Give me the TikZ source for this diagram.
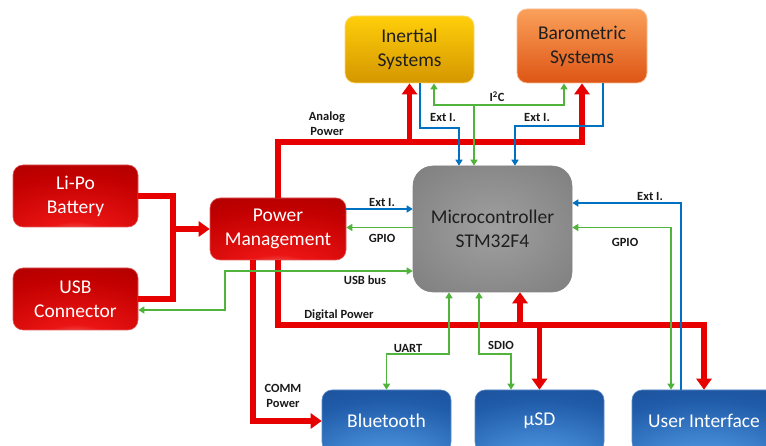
\documentclass[tikz,border=0pt]{standalone}
\usepackage{fontspec}
\setmainfont{Carlito}
\usetikzlibrary{arrows.meta,calc}

\definecolor{redline}{RGB}{230,0,0}
\definecolor{blueline}{RGB}{0,112,192}
\definecolor{greenline}{RGB}{80,180,60}
\definecolor{redA}{RGB}{255,175,175}
\definecolor{redB}{RGB}{235,20,20}
\definecolor{redC}{RGB}{195,0,0}
\definecolor{redD}{RGB}{145,0,0}
\definecolor{redEdge}{RGB}{225,90,90}
\definecolor{blueA}{RGB}{175,215,248}
\definecolor{blueB}{RGB}{70,140,215}
\definecolor{blueC}{RGB}{32,92,170}
\definecolor{blueD}{RGB}{22,66,135}
\definecolor{blueEdge}{RGB}{90,140,200}
\definecolor{grayA}{RGB}{160,160,160}
\definecolor{grayB}{RGB}{132,132,132}
\definecolor{grayC}{RGB}{110,110,110}
\definecolor{yTop}{RGB}{255,206,10}
\definecolor{yMid}{RGB}{250,190,0}
\definecolor{yBot}{RGB}{212,150,0}
\definecolor{yEdge}{RGB}{255,215,110}
\definecolor{oTop}{RGB}{250,160,90}
\definecolor{oMid}{RGB}{240,115,40}
\definecolor{oBot}{RGB}{222,85,20}
\definecolor{oEdge}{RGB}{250,190,150}

\pgfdeclareradialshading{redglow}{\pgfpoint{0bp}{-40bp}}{color(0bp)=(redA); color(14bp)=(redB); color(40bp)=(redC); color(72bp)=(redD); color(100bp)=(redD)}
\pgfdeclareradialshading{blueglow}{\pgfpoint{0bp}{-40bp}}{color(0bp)=(blueA); color(14bp)=(blueB); color(40bp)=(blueC); color(72bp)=(blueD); color(100bp)=(blueD)}
\pgfdeclareradialshading{grayglow}{\pgfpoint{0bp}{0bp}}{color(0bp)=(grayA); color(30bp)=(grayB); color(55bp)=(grayC); color(100bp)=(grayC)}

\begin{document}
\begin{tikzpicture}[x=1pt,y=1pt,
  boxfont/.style={font=\fontsize{19.5}{24}\selectfont, align=center, inner sep=0pt},
  redbox/.style={boxfont, rounded corners=10pt, shading=redglow, draw=redEdge, line width=0.6pt, text=white, minimum width=125pt, minimum height=62pt},
  bluebox/.style={boxfont, rounded corners=10pt, shading=blueglow, draw=blueEdge, line width=0.6pt, text=white, minimum width=129pt, minimum height=62pt},
  graybox/.style={boxfont, rounded corners=20pt, shading=grayglow, draw=grayB, line width=0.6pt, text=black!88},
  ybox/.style={boxfont, rounded corners=10pt, top color=yTop, middle color=yMid, bottom color=yBot, draw=yEdge, line width=0.8pt, text=black!88},
  obox/.style={boxfont, rounded corners=10pt, top color=oTop, middle color=oMid, bottom color=oBot, draw=oEdge, line width=0.8pt, text=black!88},
  lab/.style={font=\bfseries\fontsize{12.5}{15}\selectfont, align=center, inner sep=0pt, text=black!90},
  pwrline/.style={draw=redline, line width=5.3pt},
  pwr/.style={draw=redline, line width=5.3pt, -{Triangle[length=11pt,width=15pt]}},
  sig/.style={line width=1.8pt, -{Triangle[length=6pt,width=7pt]}},
  sigboth/.style={line width=1.8pt, {Triangle[length=6pt,width=7pt]}-{Triangle[length=6pt,width=7pt]}}
]
\useasboundingbox (0,0) rectangle (766,446);
\clip (0,0) rectangle (766,446);

% boxes
\node[ybox, minimum width=129pt, minimum height=67pt] (ins) at (409.5,396.5) {Inertial\\Systems};
\node[obox, minimum width=130pt, minimum height=74pt] (baro) at (582,400) {Barometric\\Systems};
\node[redbox] (lipo) at (75.5,250) {Li-Po\\Battery};
\node[redbox] (usb) at (75.5,147) {USB\\Connector};
\node[redbox, minimum width=136pt] (pm) at (278,217) {Power\\Management};
\node[graybox, minimum width=159pt, minimum height=126pt] (mcu) at (492.5,217) {Microcontroller\\STM32F4};
\node[bluebox] (bt) at (386.5,25) {Bluetooth};
\node[bluebox] (usd) at (539.5,25) {µSD};
\node[bluebox, minimum width=144pt] (ui) at (704,25) {User Interface};

% helper coordinates
\coordinate (bj) at (173,217);
\coordinate (yana) at (0,304);
\coordinate (ana) at (ins.south |- yana);
\coordinate (ydig) at (0,121);
\coordinate (mr) at ([xshift=27.5pt]mcu.south);
\coordinate (cp) at ([xshift=-25pt]pm.south);
\coordinate (yb1) at (0,237);
\coordinate (ib) at ([xshift=10.5pt]ins.south);
\coordinate (mb1) at ([xshift=-33.5pt]mcu.north);
\coordinate (y318) at (0,318);
\coordinate (bb) at ([xshift=21pt]baro.south);
\coordinate (mb2) at ([xshift=22.5pt]mcu.north);
\coordinate (y320) at (0,320);
\coordinate (uib) at ([xshift=-23pt]ui.north);
\coordinate (y243) at (0,243);
\coordinate (mg) at ([xshift=-18.5pt]mcu.north);
\coordinate (y341) at (0,341);
\coordinate (ig) at ([xshift=24.5pt]ins.south);
\coordinate (bg) at ([xshift=-18pt]baro.south);
\coordinate (ygp) at (0,218.5);
\coordinate (y175) at (0,175);
\coordinate (ub) at (225,136);
\coordinate (uig) at ([xshift=-33pt]ui.north);
\coordinate (mu) at ([xshift=-43.5pt]mcu.south);
\coordinate (ms) at ([xshift=-13.5pt]mcu.south);
\coordinate (usg) at ([xshift=-28.5pt]usd.north);
\coordinate (y92) at (0,92);

% power (red)
\draw[pwrline] (lipo.east) -| (bj) |- (usb.east);
\draw[pwr] (bj) -- (pm.west);
\draw[pwr] (pm.north) |- (ana) -| (baro.south);
\draw[pwr] (ana) -- (ins.south);
\draw[pwr] (pm.south) |- (usd.north |- ydig) -| (ui.north);
\draw[pwr] (usd.north |- ydig) -- (usd.north);
\draw[pwr] (mr |- ydig) -- (mr);
\draw[pwr] (cp) |- (bt.west);

% external interrupts (blue)
\draw[sig, blueline] (pm.east |- yb1) -- (mcu.west |- yb1);
\draw[sig, blueline] (ib) |- (y318 -| mb1) -- (mb1);
\draw[sig, blueline] (bb) |- (y320 -| mb2) -- (mb2);
\draw[sig, blueline] (uib) |- (mcu.east |- y243);

% buses (green)
\draw[sig, greenline] (mg |- y341) -- (mg);
\draw[sigboth, greenline] (ig) |- (y341 -| bg) -- (bg);
\draw[sig, greenline] (mcu.west |- ygp) -- (pm.east |- ygp);
\draw[sigboth, greenline] (mcu.west |- y175) -| (ub) -- (usb.east |- ub);
\draw[sigboth, greenline] (mcu.east |- ygp) -| (uig);
\draw[sigboth, greenline] (mu) |- (y92 -| bt.north) -- (bt.north);
\draw[sigboth, greenline] (ms) |- (y92 -| usg) -- (usg);

% labels
\node[lab] (lana) at (327,322.5) {Analog\\Power};
\node[lab] (le1) at (443,328) {Ext I.};
\node[lab] (le2) at (537,328) {Ext I.};
\node[lab] (li2c) at (497,349) {I\textsuperscript{2}C};
\node[lab] (le3) at (382,243) {Ext I.};
\node[lab] (lg1) at (382,208) {GPIO};
\node[lab] (lusb) at (365,166) {USB bus};
\node[lab] (le4) at (650,249) {Ext I.};
\node[lab] (lg2) at (625,204) {GPIO};
\node[lab] (ldig) at (339,131) {Digital Power};
\node[lab] (luart) at (408,98) {UART};
\node[lab] (lsdio) at (501,101) {SDIO};
\node[lab] (lcomm) at (283,50) {COMM\\Power};
\end{tikzpicture}
\end{document}
